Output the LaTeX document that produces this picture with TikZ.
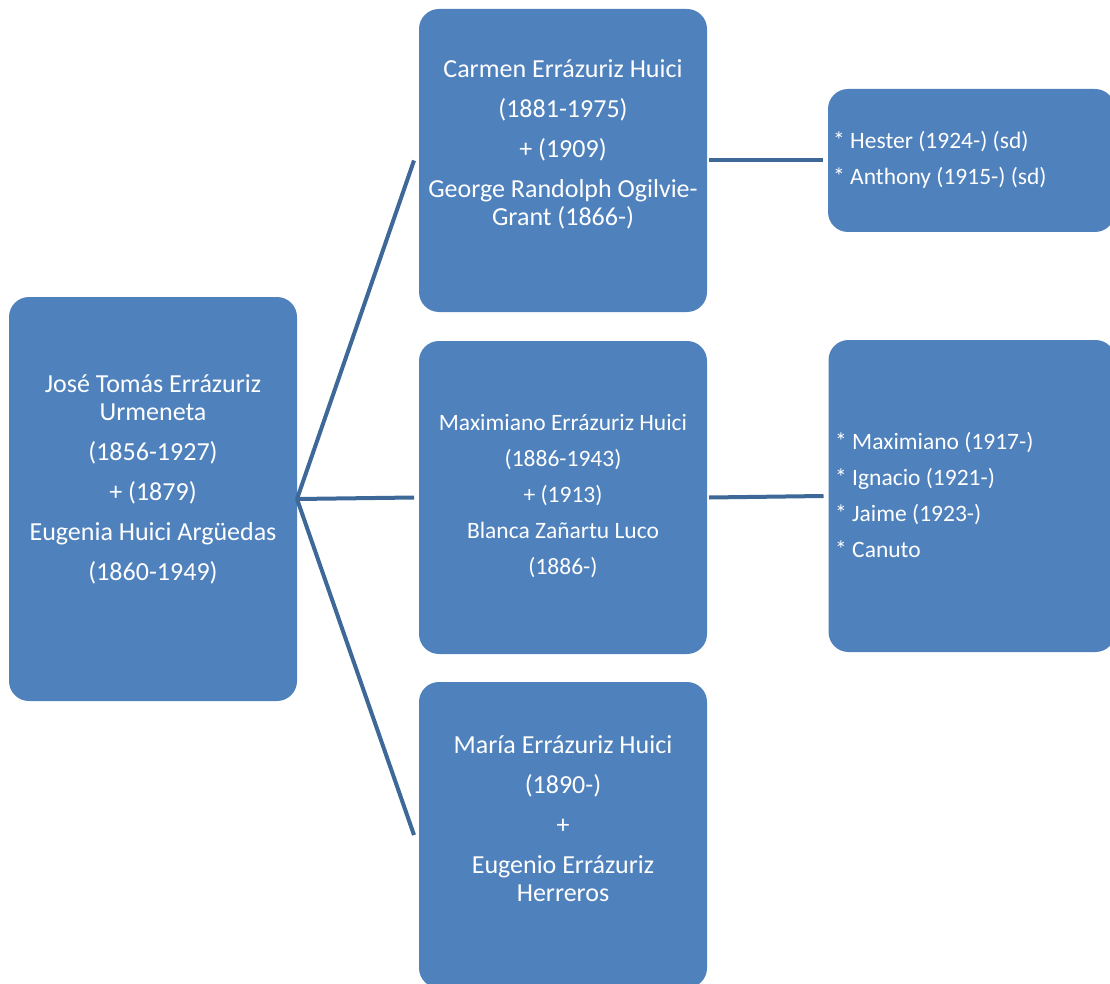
\documentclass[tikz,border=0pt]{standalone}
\usepackage{fontspec}
\setmainfont{Carlito}
\usepackage{tikz}
\usetikzlibrary{positioning}

\definecolor{boxblue}{RGB}{79,129,189}
\definecolor{linkblue}{RGB}{62,104,152}

\begin{document}
\begin{tikzpicture}[x=1pt, y=-1pt,
        person/.style={fill=boxblue, rounded corners=20pt, inner sep=0pt, outer sep=0pt},
        names/.style={text=white, inner sep=0pt, align=center, font=\fontsize{26}{28}\selectfont},
        smallnames/.style={text=white, inner sep=0pt, align=center, font=\fontsize{23.5}{24}\selectfont},
        kids/.style={text=white, inner sep=0pt, align=left, font=\fontsize{23.5}{24}\selectfont},
        link/.style={draw=linkblue, line width=4pt}]
                    \clip (0, 0) rectangle (1110, 984);

                    % parents
                    \node[person, minimum width=288pt, minimum height=404pt] (jose) at (153, 499) {};
                    \node[names] (josetext) at (153, 479)
                        {José Tomás Errázuriz\\Urmeneta\\[12pt](1856-1927)\\[12pt]+ (1879)\\[12pt]Eugenia Huici Argüedas\\[12pt](1860-1949)};

                    % children
                    \node[person, minimum width=288pt, minimum height=303pt] (carmen) at (563, 160.5) {};
                    \node[names] (carmentext) at (563, 144)
                        {Carmen Errázuriz Huici\\[12pt](1881-1975)\\[12pt]+ (1909)\\[12pt]George Randolph Ogilvie-\\Grant (1866-)};

                    \node[person, minimum width=288pt, minimum height=313pt] (maxi) at (563, 497.5) {};
                    \node[smallnames] (maxitext) at (563, 496.5)
                        {Maximiano Errázuriz Huici\\[12pt](1886-1943)\\[12pt]+ (1913)\\[12pt]Blanca Zañartu Luco\\[12pt](1886-)};

                    \node[person, minimum width=288pt, minimum height=306pt] (maria) at (563, 835) {};
                    \node[names] (mariatext) at (563, 818.5)
                        {María Errázuriz Huici\\[12pt](1890-)\\[12pt]+\\[12pt]Eugenio Errázuriz\\Herreros};

                    % grandchildren
                    \node[person, minimum width=287pt, minimum height=143pt] (hester) at (971.5, 160.5) {};
                    \node[kids, anchor=west] (hestertext) at (833, 160)
                        {* Hester (1924-) (sd)\\[12pt]* Anthony (1915-) (sd)};

                    \node[person, minimum width=287pt, minimum height=312pt] (maxikids) at (972, 496) {};
                    \node[kids, anchor=west] (maxikidstext) at (835, 495)
                        {* Maximiano (1917-)\\[12pt]* Ignacio (1921-)\\[12pt]* Jaime (1923-)\\[12pt]* Canuto};

                    % connectors
                    \draw[link] (jose.east) -- ([xshift=-5pt]carmen.west);
                    \draw[link] (jose.east) -- ([xshift=-5pt]maxi.west);
                    \draw[link] (jose.east) -- ([xshift=-5pt]maria.west);
                    \draw[link] ([xshift=2pt]carmen.east) -- ([xshift=-5pt]hester.west);
                    \draw[link] ([xshift=2pt]maxi.east) -- ([xshift=-5pt]maxikids.west);
                \end{tikzpicture}
\end{document}
